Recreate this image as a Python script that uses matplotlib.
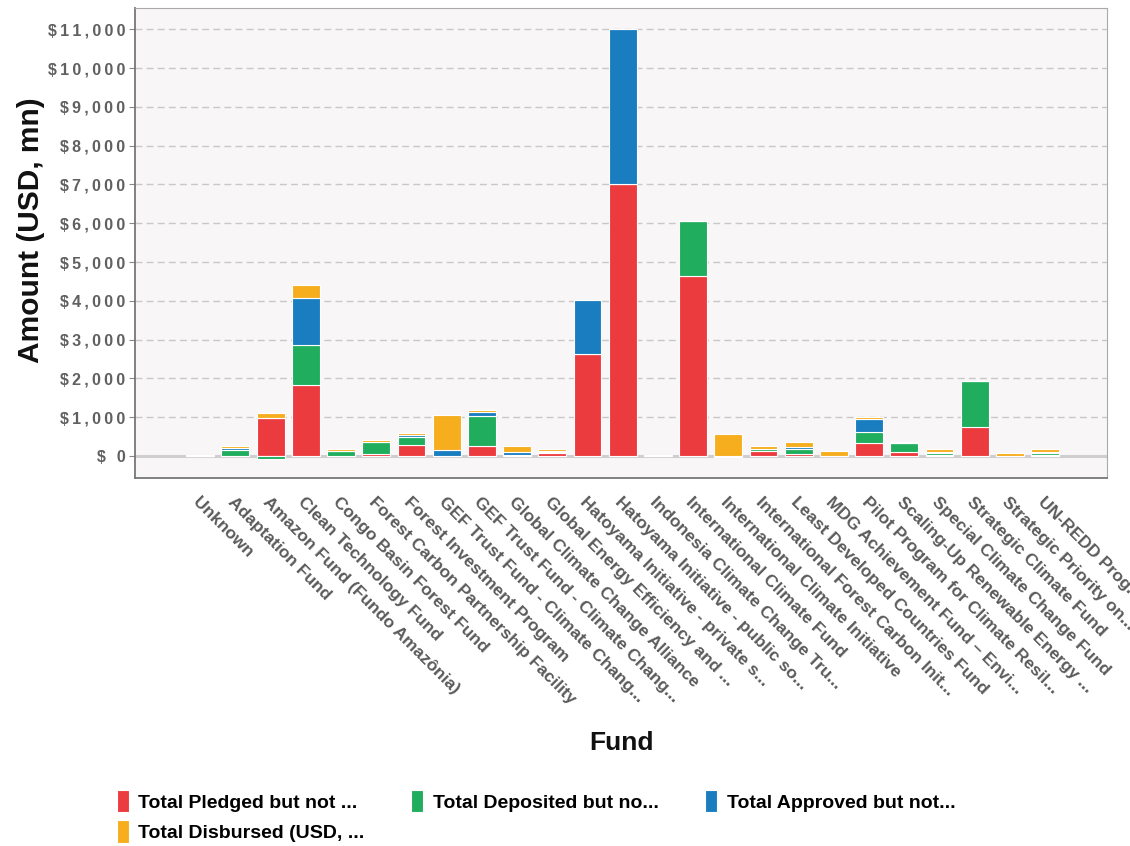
import numpy as np
import matplotlib.pyplot as plt

plt.rcParams['font.family'] = ['Liberation Sans', 'DejaVu Sans']

# Fund names (as truncated in the original chart)
funds = ['Unknown', 'Adaptation Fund', 'Amazon Fund (Fundo Amazônia)', 'Clean Technology Fund',
         'Congo Basin Forest Fund', 'Forest Carbon Partnership Facility', 'Forest Investment Program',
         'GEF Trust Fund - Climate Chang...', 'GEF Trust Fund - Climate Chang...',
         'Global Climate Change Alliance', 'Global Energy Efficiency and ...',
         'Hatoyama Initiative - private s...', 'Hatoyama Initiative - public so...',
         'Indonesia Climate Change Tru...', 'International Climate Fund',
         'International Climate Initiative', 'International Forest Carbon Init...',
         'Least Developed Countries Fund', 'MDG Achievement Fund – Envi...',
         'Pilot Program for Climate Resil...', 'Scaling-Up Renewable Energy ...',
         'Special Climate Change Fund', 'Strategic Climate Fund', 'Strategic Priority on...',
         'UN-REDD Prog...']

# USD, mn
pledged   = [3, 0, 970, 1830, 0, 60, 280, 0, 260, 0, 85, 2620, 7000, 0, 4650, 0, 130, 50, 0, 330, 95, 35, 750, 0, 25]
deposited = [3, 155, -70, 1040, 130, 290, 200, 10, 770, 25, 15, 0, 0, 0, 1400, -40, 35, 115, 0, 290, 225, 35, 1175, 0, 45]
approved  = [3, 60, 0, 1210, 0, 0, 70, 145, 110, 70, 30, 1400, 4000, 25, 0, 0, 0, 60, 0, 325, 0, 35, 0, 0, 35]
disbursed = [3, 35, 130, 335, 60, 70, 35, 895, 35, 155, 60, 0, 0, 0, 0, 560, 95, 130, 130, 70, 35, 85, 0, 65, 60]

series = [pledged, deposited, approved, disbursed]
names = ['Total Pledged but not ...', 'Total Deposited but no...',
         'Total Approved but not...', 'Total Disbursed (USD, ...']
colors = ['#EC3B3F', '#20AE5E', '#1A7DBF', '#F6AE1E']

fig = plt.figure(figsize=(11.3, 8.46), dpi=100)
ax = fig.add_axes([0.1195, 0.435, 0.86, 0.5555])
ax.set_facecolor('#F8F6F7')

x = np.arange(len(funds))
pos_bottom = np.zeros(len(funds))
neg_bottom = np.zeros(len(funds))
handles = []
for vals, name, col in zip(series, names, colors):
    v = np.array(vals, dtype=float)
    bottom = np.where(v >= 0, pos_bottom, neg_bottom)
    b = ax.bar(x, v, bottom=bottom, width=0.79, color=col, edgecolor='#FFFFFF',
               linewidth=0.8, label=name, zorder=3)
    handles.append(b)
    pos_bottom += np.where(v >= 0, v, 0)
    neg_bottom += np.where(v < 0, v, 0)

ax.set_xlim(-1.85, len(funds) - 1 + 1.75)
ax.set_ylim(-570, 11550)

# y labels are slightly letter-spaced in the original (thin spaces)
yticks = np.arange(0, 11001, 1000)
ylabels = ['$ 0' if t == 0 else '${:,}'.format(t) for t in yticks]
ax.set_yticks(yticks)
ax.set_yticklabels(['\u2009'.join(s) for s in ylabels],
                   fontsize=11.5, fontweight='bold', color='#606060')
ax.yaxis.grid(True, linestyle=(0, (5, 3)), color='#C8C8C8', linewidth=1, zorder=0)
ax.axhline(0, color='#CFCFCF', linewidth=2.2, zorder=2)
ax.tick_params(axis='y', length=4, color='#888888', pad=3)

ax.set_xticks(x)
ax.set_xticklabels(funds, rotation=-45, ha='left', va='top', rotation_mode='anchor',
                   fontsize=12.5, fontweight='bold', color='#5A5A5A')
ax.tick_params(axis='x', length=0, pad=12)

for side in ['top', 'right']:
    ax.spines[side].set_color('#AAAAAA')
for side in ['left', 'bottom']:
    ax.spines[side].set_color('#777777')
    ax.spines[side].set_linewidth(1.3)

fig.text(0.027, 0.728, 'Amount (USD, mn)', rotation=90, ha='center', va='center',
         fontsize=21.5, fontweight='bold', color='#111111')
fig.text(0.55, 0.122, 'Fund', ha='center', va='center',
         fontsize=19, fontweight='bold', color='#111111')

order = [0, 3, 1, 2]
leg = fig.legend([handles[i] for i in order], [names[i] for i in order],
                 loc='upper left', bbox_to_anchor=(0.088, 0.087), ncol=3, frameon=False,
                 handlelength=0.6, handleheight=1.4, handletextpad=0.5, columnspacing=2.4,
                 labelspacing=0.4,
                 prop={'family': ['Liberation Sans Narrow', 'Liberation Sans', 'DejaVu Sans'],
                       'weight': 'bold', 'size': 14})

fig.savefig('out.png', dpi=100, facecolor='white')
